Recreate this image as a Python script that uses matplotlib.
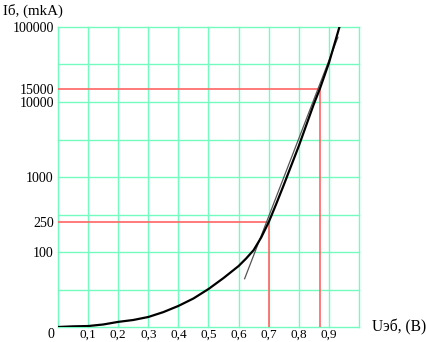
import matplotlib
matplotlib.use("Agg")
import matplotlib.pyplot as plt

# Curve data: base-emitter voltage (V) vs base current (mkA)
u_be = [0.0, 0.05, 0.1, 0.15, 0.2, 0.25, 0.3, 0.35, 0.4, 0.45, 0.5, 0.55,
        0.6, 0.625, 0.65, 0.675, 0.7, 0.725, 0.75, 0.8, 0.85, 0.87, 0.9, 0.935]
i_b = [10, 10.2, 10.3, 10.8, 11.7, 12.4, 13.6, 15.8, 19.1, 24.0, 32.1, 45.0,
       65.0, 81.9, 106, 156, 250, 437, 782, 2590, 9400, 15000, 33100, 100000]

# Tangent (thin) line
tan_x = [0.62, 0.93]
tan_y = [44, 73000]

# Marked working points
mark_x = [0.7, 0.87]
mark_y = [250, 15000]

x_ticks = [0.1, 0.2, 0.3, 0.4, 0.5, 0.6, 0.7, 0.8, 0.9]
x_labels = ["0,1", "0,2", "0,3", "0,4", "0,5", "0,6", "0,7", "0,8", "0,9"]
y_ticks = [100, 250, 1000, 10000, 15000, 100000]
y_labels = ["100", "250", "1000", "10000", "15000", "100000"]

grid_x = [0.0, 0.1, 0.2, 0.3, 0.4, 0.5, 0.6, 0.7, 0.8, 0.9, 1.0]
grid_y = [10, 31.6, 100, 316, 1000, 3162, 10000, 31623, 100000]

plt.rcParams['font.family'] = ['Liberation Serif', 'DejaVu Serif']

W, H = 427, 342
fig = plt.figure(figsize=(W / 100, H / 100), dpi=100)
ax = fig.add_axes([58 / W, 1 - 327 / H, (359 - 58) / W, (327 - 27) / H])
ax.set_yscale('log')
ax.set_xlim(0, 1)
ax.set_ylim(10, 100000)

gcol = '#74fcc0'
for gx in grid_x:
    ax.axvline(gx, color=gcol, lw=1.0, zorder=1, clip_on=False)
for gy in grid_y:
    ax.axhline(gy, color=gcol, lw=1.0, zorder=1, clip_on=False)

red = '#ff6464'
for mx, my in zip(mark_x, mark_y):
    ax.plot([0, mx], [my, my], color=red, lw=1.2, zorder=2, solid_capstyle='butt')
    ax.plot([mx, mx], [10, my], color=red, lw=1.2, zorder=2, solid_capstyle='butt')

ax.plot(tan_x, tan_y, color='#555555', lw=0.9, zorder=3)
ax.plot(u_be, i_b, color='black', lw=1.6, zorder=4, clip_on=True,
        solid_joinstyle='round')

for s in ax.spines.values():
    s.set_visible(False)

ax.set_xticks(x_ticks)
ax.set_xticklabels(x_labels)
ax.set_yticks(y_ticks)
ax.set_yticklabels(y_labels)
ax.minorticks_off()
ax.tick_params(axis='both', length=0, colors='black')
ax.tick_params(axis='x', pad=1.5, labelsize=9.5)
ax.tick_params(axis='y', pad=3, labelsize=10)

fig.text(51 / W, 1 - 334 / H, "0", ha='center', va='center', fontsize=10)
fig.text(3 / W, 1 - 11 / H, "Iб, (mkA)", ha='left', va='center', fontsize=10.8)
fig.text(372 / W, 1 - 327 / H, "Uэб, (B)", ha='left', va='center', fontsize=11.2)

fig.savefig("out.png", dpi=100)
